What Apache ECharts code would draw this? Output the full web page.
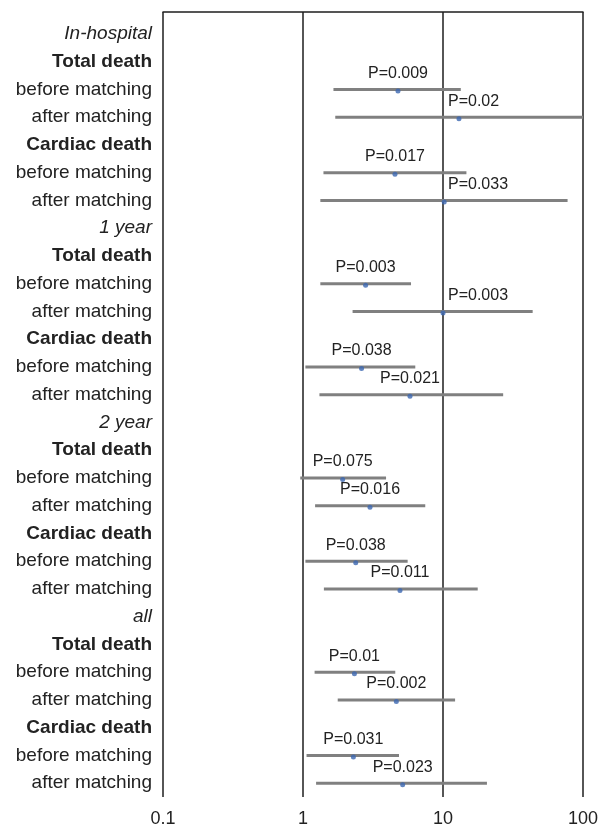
<!DOCTYPE html>
<html>
<head>
<meta charset="utf-8">
<script src="https://cdn.jsdelivr.net/npm/echarts@6/dist/echarts.min.js"></script>
<style>
  html, body { margin: 0; padding: 0; background: #ffffff; }
  #chart { width: 606px; height: 829px; }
</style>
</head>
<body>
<div id="chart"></div>
<script>
// Follow-up periods, outcomes and matching phases (row structure of the forest plot)
const periods = ['In-hospital', '1 year', '2 year', 'all'];
const outcomes = ['Total death', 'Cardiac death'];
const phases = ['before matching', 'after matching'];

// Hazard ratios with 95% CI, ordered period -> outcome -> phase
const hazardRatio = [4.77, 13.0, 4.54, 10.2, 2.80, 10.0, 2.62, 5.81, 1.92, 3.01, 2.38, 4.93, 2.33, 4.64, 2.29, 5.15];
const ciLower     = [1.65, 1.70, 1.40, 1.33, 1.33, 2.26, 1.04, 1.31, 0.956, 1.22, 1.04, 1.41, 1.21, 1.77, 1.06, 1.24];
const ciUpper     = [13.4, 100, 14.7, 77.6, 5.91, 43.7, 6.34, 26.9, 3.92, 7.47, 5.59, 17.7, 4.56, 12.2, 4.85, 20.6];
const pValues     = ['0.009', '0.02', '0.017', '0.033', '0.003', '0.003', '0.038', '0.021',
                     '0.075', '0.016', '0.038', '0.011', '0.01', '0.002', '0.031', '0.023'];

// Log-scale tick labels
const tickLabels = ['0.1', '1', '10', '100'];

// Build the row list and map each result to its row
const rows = [];
const resultRow = [];
periods.forEach(function (p) {
  rows.push(p);
  outcomes.forEach(function (o) {
    rows.push(o);
    phases.forEach(function (ph) {
      resultRow.push(rows.length);
      rows.push(ph);
    });
  });
});

const points = hazardRatio.map(function (v, i) { return [v, resultRow[i]]; });
const intervals = hazardRatio.map(function (v, i) { return [ciLower[i], resultRow[i], ciUpper[i]]; });
const pLabels = hazardRatio.map(function (v, i) { return [v, resultRow[i], 'P=' + pValues[i]]; });

const FONT = "'Liberation Sans', Arial, Helvetica, sans-serif";
const TEXT = '#222222';
const RULE = '#1e1e1e';
const pFont = '16px ' + FONT;

const measureCtx = document.createElement('canvas').getContext('2d');
function textWidth(s, font) { measureCtx.font = font; return measureCtx.measureText(s).width; }

function rowKind(name) {
  if (phases.indexOf(name) >= 0) return 'n';
  if (outcomes.indexOf(name) >= 0) return 'b';
  return 'i';
}

const chart = echarts.init(document.getElementById('chart'), null, { renderer: 'canvas' });

const logAxisBase = { type: 'log', logBase: 10, min: 0.1, max: 100 };

chart.setOption({
  animation: false,
  backgroundColor: '#ffffff',
  grid: [
    { left: 163, right: 23, top: 12, bottom: 32 },
    { left: 163, right: 23, top: 20, bottom: 32 }
  ],
  xAxis: [
    Object.assign({}, logAxisBase, {
      gridIndex: 0,
      position: 'bottom',
      axisLine: { show: false },
      axisTick: { show: false },
      axisLabel: {
        color: TEXT, fontFamily: FONT, fontSize: 18, margin: 13,
        formatter: function (v) {
          const idx = Math.round(Math.log10(v)) + 1;
          return tickLabels[idx] !== undefined ? tickLabels[idx] : '';
        }
      },
      splitLine: { show: true, lineStyle: { color: RULE, width: 1.5 } }
    }),
    Object.assign({}, logAxisBase, {
      gridIndex: 0,
      position: 'top',
      axisLine: { show: true, lineStyle: { color: RULE, width: 1.5 } },
      axisTick: { show: false },
      axisLabel: { show: false },
      splitLine: { show: false }
    }),
    Object.assign({}, logAxisBase, { gridIndex: 1, show: false })
  ],
  yAxis: [
    { type: 'value', gridIndex: 0, min: 0, max: 1, show: false },
    {
      type: 'category',
      gridIndex: 1,
      inverse: true,
      data: rows,
      axisLine: { show: false },
      axisTick: { show: false },
      splitLine: { show: false },
      axisLabel: {
        margin: 11,
        formatter: function (v) { return '{' + rowKind(v) + '|' + v + '}'; },
        rich: {
          n: { fontFamily: FONT, fontSize: 19, color: TEXT },
          b: { fontFamily: FONT, fontSize: 19, color: TEXT, fontWeight: 'bold' },
          i: { fontFamily: FONT, fontSize: 19, color: TEXT, fontStyle: 'italic' }
        }
      }
    }
  ],
  series: [
    {
      name: 'CI',
      type: 'custom',
      xAxisIndex: 2,
      yAxisIndex: 1,
      clip: true,
      data: intervals,
      encode: { x: [0, 2], y: 1 },
      renderItem: function (params, api) {
        const a = api.coord([api.value(0), api.value(1)]);
        const b = api.coord([api.value(2), api.value(1)]);
        return {
          type: 'line',
          shape: { x1: a[0], y1: a[1], x2: b[0], y2: b[1] },
          style: { stroke: '#808080', lineWidth: 3 }
        };
      }
    },
    {
      name: 'HR',
      type: 'scatter',
      xAxisIndex: 2,
      yAxisIndex: 1,
      data: points,
      symbol: 'circle',
      symbolSize: 5,
      symbolOffset: [0, 1.5],
      itemStyle: { color: '#3b66b0' },
      z: 3
    },
    {
      name: 'P',
      type: 'custom',
      xAxisIndex: 2,
      yAxisIndex: 1,
      data: pLabels,
      encode: { x: 0, y: 1 },
      z: 4,
      renderItem: function (params, api) {
        const c = api.coord([api.value(0), api.value(1)]);
        const txt = pLabels[params.dataIndex][2];
        const w = textWidth(txt, pFont);
        const ref = api.coord([10, api.value(1)])[0];
        let left = c[0] - w / 2;
        // keep the label clear of the reference line at 10
        if (left < ref && left + w > ref) left = ref + 5;
        return {
          type: 'text',
          style: {
            x: left, y: c[1] - 16,
            text: txt,
            font: pFont,
            fill: TEXT,
            align: 'left',
            verticalAlign: 'middle'
          }
        };
      }
    }
  ]
});
</script>
</body>
</html>
